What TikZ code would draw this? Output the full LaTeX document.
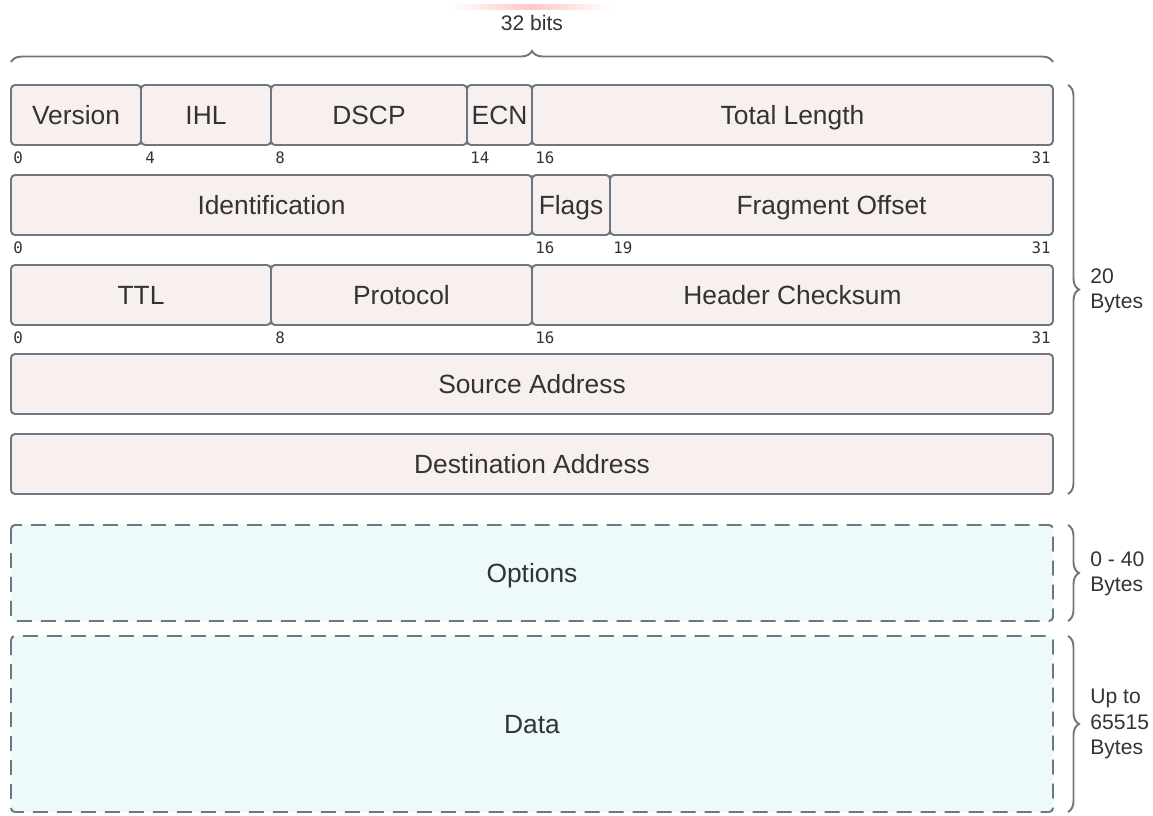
\documentclass[tikz,border=0pt]{standalone}
\usepackage{fontspec}
\setmainfont{Liberation Sans}
\newfontfamily\monofnt{DejaVu Sans Mono}
\usetikzlibrary{decorations.pathreplacing}
\definecolor{edgec}{HTML}{6E7682}
\definecolor{hdrfill}{HTML}{F8F0EE}
\definecolor{optfill}{HTML}{EEF9FA}
\definecolor{txtc}{HTML}{333333}
\tikzset{
  hdr/.style={draw=edgec, fill=hdrfill, line width=1.1pt, rounded corners=0.08cm},
  opt/.style={draw=edgec, fill=optfill, line width=1.1pt, rounded corners=0.08cm, dash pattern=on 0.3cm off 0.18cm},
  lbl/.style={text=txtc, font=\fontsize{15}{17}\selectfont, text height=10.7pt, text depth=0pt, inner sep=0pt},
  bitn/.style={text=txtc, font=\monofnt\fontsize{9}{10}\selectfont, inner sep=0pt},
  brc/.style={draw=edgec, line width=1.1pt, decorate, decoration={brace, amplitude=0.22cm}},
  side/.style={text=txtc, font=\fontsize{12}{14.5}\selectfont, align=left, anchor=west, inner sep=0pt},
}
\begin{document}
\begin{tikzpicture}[x=0.02cm, y=-0.02cm]
\useasboundingbox (0,0) rectangle (1153,815);
\shade[left color=white, right color=white, middle color=red!22] (450,4) rectangle (612,9);
% row 1
\path[hdr] (11,85) rectangle (141,145) node[midway, lbl] (ver) {Version};
\path[hdr] (141,85) rectangle (271,145) node[midway, lbl] (ihl) {IHL};
\path[hdr] (271,85) rectangle (467,145) node[midway, lbl] (dscp) {DSCP};
\path[hdr] (467,85) rectangle (532,145) node[midway, lbl] (ecn) {ECN};
\path[hdr] (532,85) rectangle (1053,145) node[midway, lbl] (tl) {Total Length};
\node[bitn, anchor=west] (n10) at (13,158) {0};
\node[bitn, anchor=west] (n14) at (145,158) {4};
\node[bitn, anchor=west] (n18) at (275,158) {8};
\node[bitn, anchor=west] (n114) at (470,158) {14};
\node[bitn, anchor=west] (n116) at (535,158) {16};
\node[bitn, anchor=east] (n131) at (1051,158) {31};
% row 2
\path[hdr] (11,175) rectangle (532,235) node[midway, lbl] (idf) {Identification};
\path[hdr] (532,175) rectangle (610,235) node[midway, lbl] (flg) {Flags};
\path[hdr] (610,175) rectangle (1053,235) node[midway, lbl] (fo) {Fragment Offset};
\node[bitn, anchor=west] (n20) at (13,248) {0};
\node[bitn, anchor=west] (n216) at (535,248) {16};
\node[bitn, anchor=west] (n219) at (613,248) {19};
\node[bitn, anchor=east] (n231) at (1051,248) {31};
% row 3
\path[hdr] (11,265) rectangle (271,325) node[midway, lbl] (ttl) {TTL};
\path[hdr] (271,265) rectangle (532,325) node[midway, lbl] (prt) {Protocol};
\path[hdr] (532,265) rectangle (1053,325) node[midway, lbl] (hc) {Header Checksum};
\node[bitn, anchor=west] (n30) at (13,338) {0};
\node[bitn, anchor=west] (n38) at (275,338) {8};
\node[bitn, anchor=west] (n316) at (535,338) {16};
\node[bitn, anchor=east] (n331) at (1051,338) {31};
% rows 4,5
\path[hdr] (11,354) rectangle (1053,414) node[midway, lbl] (src) {Source Address};
\path[hdr] (11,434) rectangle (1053,494) node[midway, lbl] (dst) {Destination Address};
% options, data
\path[opt] (11,525) rectangle (1053,621) node[midway, lbl] (opts) {Options};
\path[opt] (11,636) rectangle (1053,812) node[midway, lbl] (data) {Data};
% braces
\coordinate (tb1) at (11,62);
\coordinate (tb2) at (1053,62);
\draw[brc] (tb1) -- (tb2);
\node[text=txtc, font=\fontsize{12}{14}\selectfont] (bits) at (532,23) {32 bits};
\coordinate (b1a) at (1068,85);
\coordinate (b1b) at (1068,494);
\draw[brc] (b1a) -- (b1b);
\node[side] (s1) at (1090,291) {20\\Bytes};
\coordinate (b2a) at (1068,525);
\coordinate (b2b) at (1068,621);
\draw[brc] (b2a) -- (b2b);
\node[side] (s2) at (1090,574) {0 - 40\\Bytes};
\coordinate (b3a) at (1068,636);
\coordinate (b3b) at (1068,812);
\draw[brc] (b3a) -- (b3b);
\node[side] (s3) at (1090,724) {Up to\\65515\\Bytes};
\end{tikzpicture}
\end{document}
